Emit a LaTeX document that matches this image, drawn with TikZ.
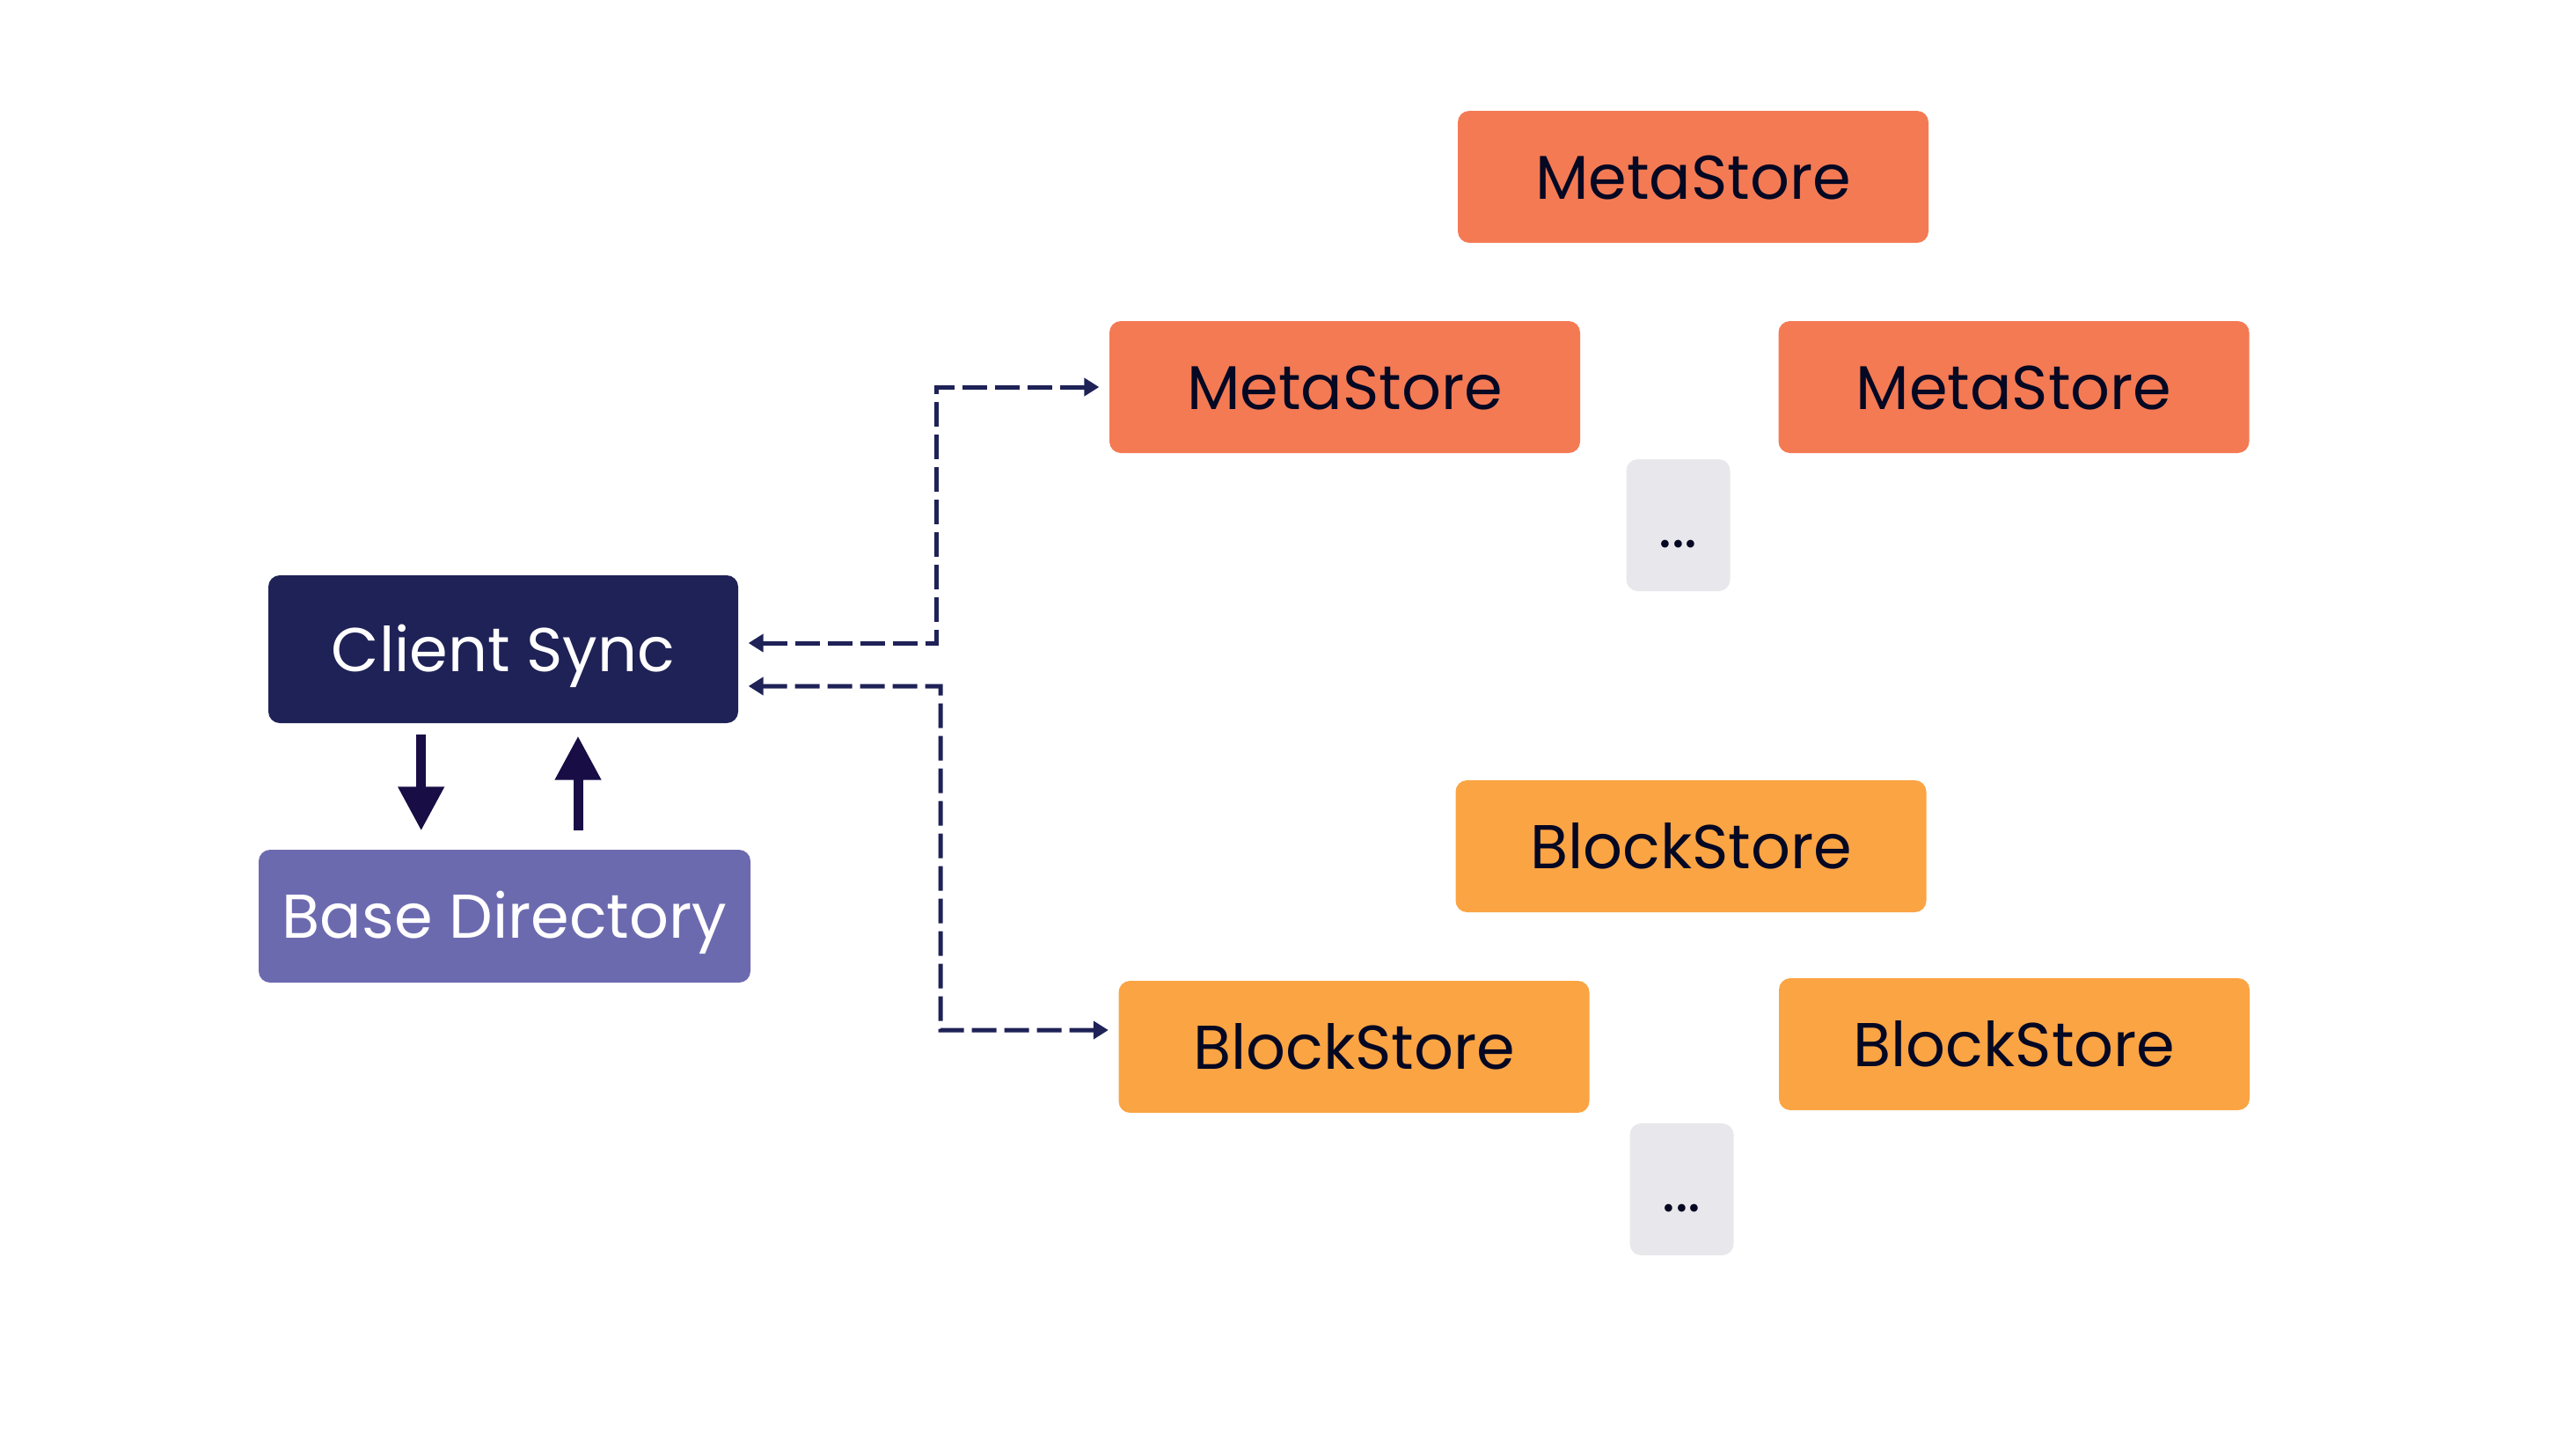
\documentclass[tikz,border=0pt]{standalone}
\usepackage{fontspec}
\setmainfont{Poppins}
\usetikzlibrary{arrows.meta}
\definecolor{metaorange}{HTML}{F47A53}
\definecolor{blockorange}{HTML}{FBA443}
\definecolor{syncnavy}{HTML}{1E2256}
\definecolor{dirpurple}{HTML}{6C6AAF}
\definecolor{moregrey}{HTML}{E8E7EB}
\definecolor{inkdark}{HTML}{050822}
\definecolor{flowpurple}{HTML}{190D45}
\begin{document}
\begin{tikzpicture}[
		box/.style={rectangle, rounded corners=0.13cm, inner sep=0pt, minimum width=5.35cm, minimum height=1.5cm, text height=0.5cm, text depth=0cm, font=\fontsize{20pt}{24pt}\selectfont, text=inkdark},
		meta/.style={box, fill=metaorange},
		block/.style={box, fill=blockorange},
		more/.style={box, fill=moregrey, minimum width=1.18cm},
		link/.style={{Triangle[width=0.2cm,length=0.17cm]}-{Triangle[width=0.2cm,length=0.17cm]}, dash pattern=on 0.28cm off 0.09cm, line width=0.05cm, syncnavy, shorten <=0.11cm, shorten >=0.11cm},
		flow/.style={-{Triangle[width=0.5cm,length=0.5cm]}, line width=0.11cm, flowpurple}]

		\useasboundingbox (0,0) rectangle (29.28,-16.36);

		\draw (19.245,-2.01) node (ms0) [meta] {MetaStore};
		\draw (15.285,-4.40) node (ms1) [meta] {MetaStore};
		\draw (22.89,-4.40) node (ms2) [meta] {MetaStore};
		\draw (19.075,-5.97) node (msmore) [more] {...};

		\draw (5.72,-7.38) node (cs) [box, fill=syncnavy, minimum width=5.34cm, minimum height=1.68cm, text=white] {Client Sync};
		\draw (5.735,-10.415) node (bd) [box, fill=dirpurple, minimum width=5.59cm, minimum height=1.51cm, text=white] {Base Directory};

		\draw (19.22,-9.62) node (bs0) [block] {BlockStore};
		\draw (15.39,-11.90) node (bs1) [block] {BlockStore};
		\draw (22.895,-11.87) node (bs2) [block] {BlockStore};
		\draw (19.115,-13.52) node (bsmore) [more] {...};

		\coordinate (msbend) at (10.645,-4.40);
		\coordinate (bsbend) at (10.69,-11.71);

		\draw[link] ([yshift=0.07cm]cs.east) -| (msbend) -- (ms1.west);
		\draw[link] ([yshift=-0.42cm]cs.east) -| (bsbend) -- ([yshift=0.19cm]bs1.west);

		\draw[flow] ([xshift=-0.933cm,yshift=-0.12cm]cs.south) -- ([xshift=-0.948cm,yshift=0.21cm]bd.north);
		\draw[flow] ([xshift=0.835cm,yshift=0.21cm]bd.north) -- ([xshift=0.85cm,yshift=-0.14cm]cs.south);

	\end{tikzpicture}
\end{document}
